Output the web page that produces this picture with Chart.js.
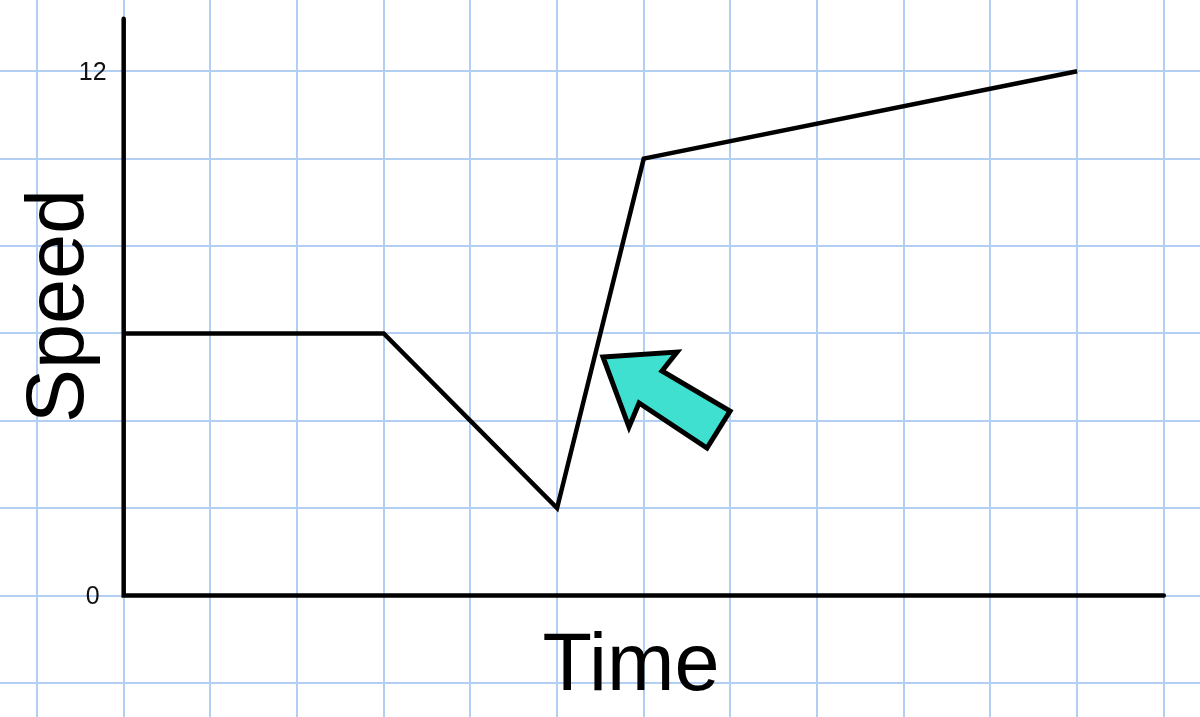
<!DOCTYPE html>
<html>
<head>
<meta charset="utf-8">
<script src="https://cdn.jsdelivr.net/npm/chart.js@4.4.1/dist/chart.umd.min.js"></script>
<style>
  html, body { margin: 0; padding: 0; background: #fff; }
  #wrap { width: 1200px; height: 717px; position: relative; }
</style>
</head>
<body>
<div id="wrap"><canvas id="speedChart"></canvas></div>
<script>
  // data
  const timeValues = [0, 3, 5, 6, 11];
  const speedValues = [6, 6, 2, 10, 12];
  const yTickLabels = [0, 12];

  // axis extents and the graph paper window
  const axisEnd = { x: 12, y: 13.2 };
  const paperX = { min: -1.427, max: 12.418 };
  const paperY = { min: -2.778, max: 13.629 };

  // arrow outline, in data units
  const arrowX = [5.53, 6.384, 6.211, 6.996, 6.73, 5.946, 5.83];
  const arrowY = [5.46, 5.574, 5.14, 4.224, 3.378, 4.407, 3.858];

  const gridBlue = 'rgb(178, 206, 242)';
  const fontFamily = '"Liberation Sans", Arial, sans-serif';

  // axes, labels and arrow drawn on top with the chart's scales
  const overlay = {
    id: 'overlay',
    afterDatasetsDraw(chart) {
      const ctx = chart.ctx;
      const xs = chart.scales.x, ys = chart.scales.y;
      const x0 = xs.getPixelForValue(0), y0 = ys.getPixelForValue(0);

      ctx.save();
      // black axes
      ctx.strokeStyle = '#000';
      ctx.lineWidth = 4.5;
      ctx.lineJoin = 'miter';
      ctx.lineCap = 'round';
      ctx.beginPath();
      ctx.moveTo(x0, ys.getPixelForValue(axisEnd.y));
      ctx.lineTo(x0, y0);
      ctx.lineTo(xs.getPixelForValue(axisEnd.x), y0);
      ctx.stroke();

      // tick labels
      ctx.fillStyle = '#111';
      ctx.font = '25px ' + fontFamily;
      ctx.textAlign = 'center';
      ctx.textBaseline = 'middle';
      yTickLabels.forEach(v => {
        ctx.fillText(String(v), x0 - 31, ys.getPixelForValue(v) + 2);
      });

      // axis titles
      ctx.fillStyle = '#000';
      ctx.font = '81px ' + fontFamily;
      ctx.textBaseline = 'alphabetic';
      ctx.fillText('Time', 631, 690);
      ctx.save();
      ctx.translate(83, 306);
      ctx.rotate(-Math.PI / 2);
      ctx.fillText('Speed', 0, 0);
      ctx.restore();

      // turquoise arrow
      ctx.beginPath();
      arrowX.forEach((v, i) => {
        const px = xs.getPixelForValue(v), py = ys.getPixelForValue(arrowY[i]);
        if (i === 0) ctx.moveTo(px, py); else ctx.lineTo(px, py);
      });
      ctx.closePath();
      ctx.fillStyle = '#40e0d0';
      ctx.fill();
      ctx.lineWidth = 5;
      ctx.lineCap = 'butt';
      ctx.strokeStyle = '#000';
      ctx.stroke();
      ctx.restore();
    }
  };

  new Chart(document.getElementById('speedChart'), {
    type: 'line',
    data: {
      datasets: [{
        data: timeValues.map((t, i) => ({ x: t, y: speedValues[i] })),
        borderColor: '#000',
        borderWidth: 4.5,
        tension: 0,
        pointRadius: 0,
        fill: false,
        clip: false
      }]
    },
    options: {
      responsive: true,
      maintainAspectRatio: false,
      animation: false,
      layout: { padding: 0 },
      plugins: { legend: { display: false }, tooltip: { enabled: false } },
      scales: {
        x: {
          type: 'linear',
          min: paperX.min,
          max: paperX.max,
          ticks: { display: false, stepSize: 1, includeBounds: false, maxTicksLimit: 100 },
          grid: { color: gridBlue, lineWidth: 2, drawTicks: false },
          border: { display: false }
        },
        y: {
          type: 'linear',
          min: paperY.min,
          max: paperY.max,
          ticks: { display: false, stepSize: 2, includeBounds: false, maxTicksLimit: 100 },
          grid: { color: gridBlue, lineWidth: 2, drawTicks: false },
          border: { display: false }
        }
      }
    },
    plugins: [overlay]
  });
</script>
</body>
</html>
